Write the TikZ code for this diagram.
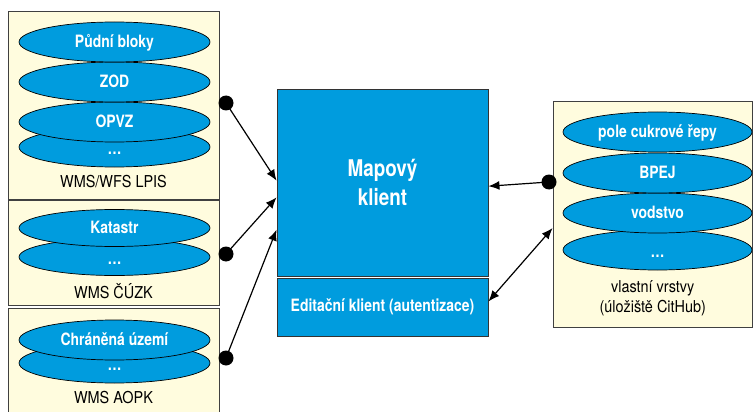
\documentclass[tikz,border=0pt]{standalone}
\usepackage{fontspec}
\setmainfont{TeX Gyre Heros}[FakeStretch=0.88]
\newfontfamily\uzky{TeX Gyre Heros}[FakeStretch=0.82]
\usetikzlibrary{arrows.meta,shapes.geometric}

\definecolor{mapblue}{RGB}{0,156,222}
\definecolor{paper}{RGB}{255,252,222}

\tikzset{
  zdroj/.style={draw=black!75,fill=paper,line width=0.9pt,inner sep=0pt},
  vrstva/.style={ellipse,draw=black,line width=0.7pt,fill=mapblue,text=white,
    minimum width=191,minimum height=40,inner sep=0pt,
    text height=11.5pt,text depth=0pt,font=\uzky\bfseries\fontsize{17}{19}\selectfont},
  dalsi/.style={vrstva,text height=15pt},
  klient/.style={draw=black!80,fill=mapblue,line width=0.9pt,text=white,align=center},
  popis/.style={align=center,font=\fontsize{16.4}{20}\selectfont},
  tecka/.style={circle,fill=black,minimum size=15pt,inner sep=0pt},
  sipka/.style={line width=1.2pt,-{Latex[length=11pt,width=9pt]}},
  obousipka/.style={line width=1.2pt,{Latex[length=11pt,width=9pt]}-{Latex[length=11pt,width=9pt]}},
}

\begin{document}
\begin{tikzpicture}[x=1pt,y=-1pt]
\useasboundingbox (0,0) rectangle (753,412);

% zdroje vlevo
\node[zdroj,minimum width=211,minimum height=188] (lpis) at (113.5,105) {};
\node[dalsi] (lpis4) at (114.5,147) {\dots};
\node[vrstva] (lpis3) at (114.5,122) {OPVZ};
\node[vrstva] (lpis2) at (114.5,82) {ZOD};
\node[vrstva] (lpis1) at (114.5,42) {Půdní bloky};
\node[popis] (lpisL) at (113.5,182) {WMS/WFS LPIS};

\node[zdroj,minimum width=211,minimum height=105] (cuzk) at (113.5,252.5) {};
\node[dalsi,minimum height=37] (cuzk2) at (114.5,257) {\dots};
\node[vrstva,minimum height=37] (cuzk1) at (114.5,228) {Katastr};
\node[popis] (cuzkL) at (113.5,291) {WMS ČÚZK};

\node[zdroj,minimum width=211,minimum height=108] (aopk) at (113.5,362) {};
\node[dalsi] (aopk2) at (114.5,363) {\dots};
\node[vrstva] (aopk1) at (114.5,340) {Chráněná území};
\node[popis] (aopkL) at (113.5,398) {WMS AOPK};

% klient
\node[klient,minimum width=211,minimum height=187,
  font=\uzky\bfseries\fontsize{23}{29}\selectfont] (mapa) at (382.5,182.5) {Mapový\\klient};
\node[klient,minimum width=211,minimum height=58,
  font=\uzky\bfseries\fontsize{17}{19}\selectfont] (editace) at (382.5,307) {Editační klient (autentizace)};

% vlastni vrstvy vpravo
\node[zdroj,minimum width=199.5,minimum height=226] (vlastni) at (652.75,214) {};
\node[dalsi,minimum width=189] (vl4) at (657.5,250) {\dots};
\node[vrstva,minimum width=189] (vl3) at (657.5,213) {vodstvo};
\node[vrstva,minimum width=189] (vl2) at (657.5,173) {BPEJ};
\node[vrstva,minimum width=189] (vl1) at (657.5,132) {pole cukrové řepy};
\node[popis] (vlL) at (652.75,298) {vlastní vrstvy\\(úložiště CitHub)};

% spojeni
\node[tecka] (t1) at (226,103) {};
\node[tecka] (t2) at (226,254) {};
\node[tecka] (t3) at (226,358) {};
\node[tecka] (t4) at (549,182) {};

\draw[sipka] (t1.center) -- (mapa.179);
\draw[sipka] (t2.center) -- (mapa.188);
\draw[sipka] (t3.center) -- (mapa.204);
\draw[sipka] (t4.center) -- (mapa.-2);
\draw[obousipka] (editace.3) -- (vlastni.188);
\end{tikzpicture}
\end{document}
